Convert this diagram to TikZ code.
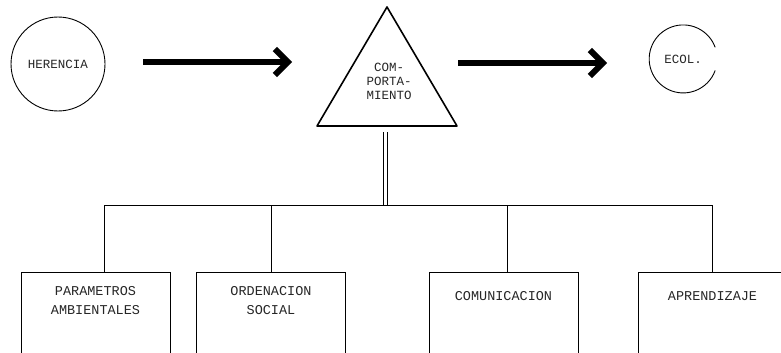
\documentclass[tikz,border=0pt]{standalone}
\usepackage{fontspec}
\setmonofont{Liberation Mono}
\usetikzlibrary{arrows.meta,calc}
\begin{document}
\begin{tikzpicture}[x=1pt,y=-1pt,
  txt/.style={font=\ttfamily\fontsize{13.5}{19}\selectfont, align=center, inner sep=0pt, text=black!85},
  box/.style={draw, line width=0.9pt, minimum width=149pt, minimum height=110pt, anchor=north, inner sep=0pt},
  ring/.style={circle, inner sep=0pt},
  bigarrow/.style={line width=6pt, -{Straight Barb[length=13pt,width=26pt]}},
  wire/.style={line width=0.9pt}]
\useasboundingbox (0,0) rectangle (781,353);
\clip (0,0) rectangle (781,353);

% top row: inheritance, behaviour triangle, ecology
\node[ring, draw, line width=0.9pt, minimum size=94pt] (her) at (58,64) {};
\node[txt, font=\ttfamily\fontsize{12.5}{14}\selectfont] at (her.center) {HERENCIA};

\coordinate (apex) at (387,7);
\coordinate (bl) at (317,126);
\coordinate (br) at (457,126);
\draw[line width=1.6pt, line join=round] (apex) -- (br) -- (bl) -- cycle;
\node[txt, font=\ttfamily\fontsize{12.5}{14}\selectfont] (comp) at (389,81) {COM-\\PORTA-\\MIENTO};

\node[ring, minimum size=68pt] (ecol) at (683,59) {};
\draw[line width=0.9pt] (ecol.20) arc[start angle=20, end angle=340, radius=34pt];
\node[txt, font=\ttfamily\fontsize{12.5}{14}\selectfont] at (ecol.center) {ECOL.};

\coordinate (a1s) at (143,62);
\coordinate (a1e) at (292,62);
\coordinate (a2s) at (458,63);
\coordinate (a2e) at (607,63);
\draw[bigarrow] (a1s) -- (a1e);
\draw[bigarrow] (a2s) -- (a2e);

% distribution bus
\coordinate (stem) at (385.5,132);
\coordinate (busstem) at (385.5,205);
\draw[wire, double distance=3.5pt, line width=0.8pt] (stem) -- (busstem);

\node[box] (b1) at (95.5,272) {};
\node[box] (b2) at (271,272) {};
\node[box] (b3) at (503.5,272) {};
\node[box] (b4) at (712.5,272) {};

\node[txt, anchor=north] at ([yshift=-14pt]b1.north) {PARAMETROS\\AMBIENTALES};
\node[txt, anchor=north] at ([yshift=-14pt]b2.north) {ORDENACION\\SOCIAL};
\node[txt, anchor=north] at ([yshift=-19pt]b3.north) {COMUNICACION};
\node[txt, anchor=north] at ([yshift=-19pt]b4.north) {APRENDIZAJE};

\coordinate (bus1) at (104,205);
\coordinate (bus2) at (271,205);
\coordinate (bus3) at (507,205);
\coordinate (bus4) at (712,205);
\draw[wire] (bus1) -- (bus4);
\draw[wire] (bus1) -- (bus1 |- b1.north);
\draw[wire] (bus2) -- (bus2 |- b2.north);
\draw[wire] (bus3) -- (bus3 |- b3.north);
\draw[wire] (bus4) -- (bus4 |- b4.north);
\end{tikzpicture}
\end{document}
